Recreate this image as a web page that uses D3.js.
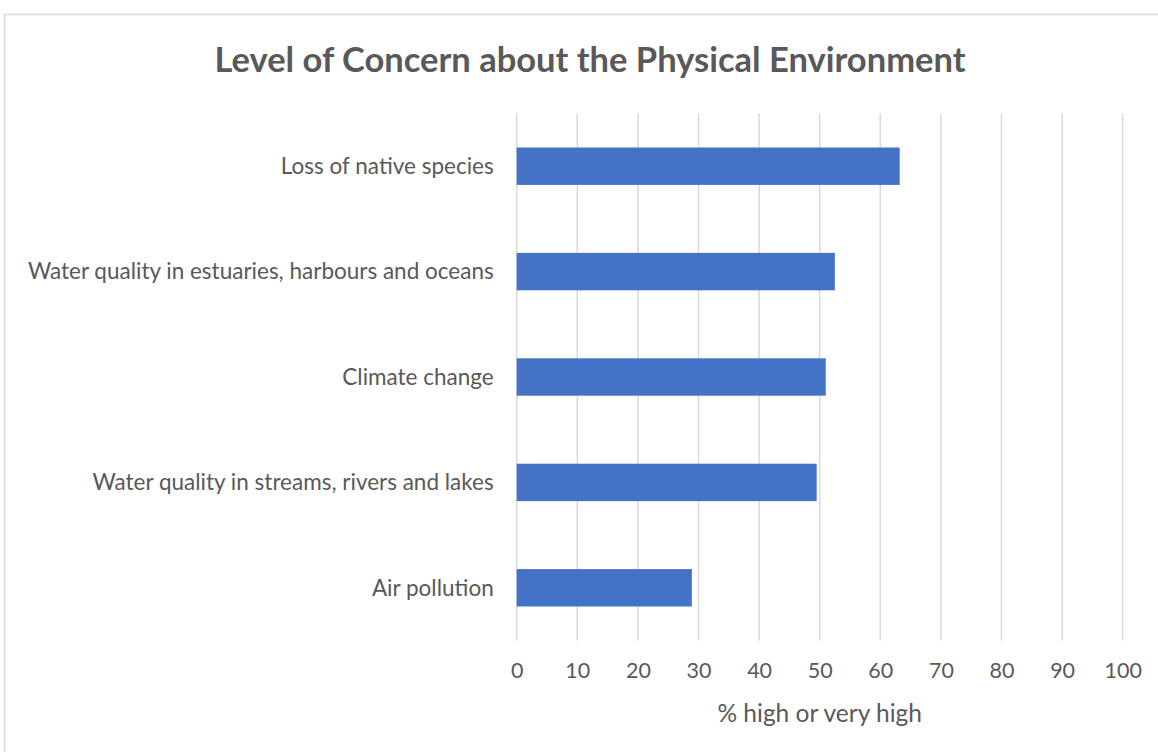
<!DOCTYPE html>
<html>
<head>
<meta charset="utf-8">
<script src="https://cdn.jsdelivr.net/npm/d3@7"></script>
<style>
  html, body { margin: 0; padding: 0; background: #fff; }
  svg { display: block; }
  text { font-family: Lato, "Open Sans", sans-serif; fill: #595959; }
</style>
</head>
<body>
<svg id="chart" width="1158" height="752"></svg>
<script>
// Survey results: share rating each concern high or very high
const categories = [
  "Loss of native species",
  "Water quality in estuaries, harbours and oceans",
  "Climate change",
  "Water quality in streams, rivers and lakes",
  "Air pollution"
];
const values = [63.2, 52.5, 51.0, 49.5, 28.9];
const tickValues = [0, 10, 20, 30, 40, 50, 60, 70, 80, 90, 100];

const title = "Level of Concern about the Physical Environment";
const xAxisTitle = "% high or very high";

const svg = d3.select("#chart");
const W = 1158, H = 752;

// chart frame
svg.append("rect")
  .attr("x", 4.5).attr("y", 14.5)
  .attr("width", W + 10).attr("height", H + 10)
  .attr("fill", "#fff").attr("stroke", "#d9d9d9").attr("stroke-width", 1.5);

const plot = { left: 516.7, right: 1122.7, top: 113.5, bottom: 640.5 };

const x = d3.scaleLinear().domain([0, 100]).range([plot.left, plot.right]);
const y = d3.scaleBand().domain(categories).range([plot.top, plot.bottom])
  .paddingInner(0.645).paddingOuter(0.3225);

// vertical gridlines
svg.append("g")
  .selectAll("line")
  .data(tickValues)
  .join("line")
  .attr("x1", d => x(d)).attr("x2", d => x(d))
  .attr("y1", plot.top).attr("y2", plot.bottom)
  .attr("stroke", "#d9d9d9").attr("stroke-width", 1.5);

// bars
svg.append("g")
  .selectAll("rect")
  .data(categories)
  .join("rect")
  .attr("x", x(0))
  .attr("y", d => y(d))
  .attr("width", (d, i) => x(values[i]) - x(0))
  .attr("height", y.bandwidth())
  .attr("fill", "#4472c4");

// x axis tick labels
const xAxis = d3.axisBottom(x).tickValues(tickValues).tickSize(0).tickPadding(0);
const gx = svg.append("g").attr("transform", `translate(0,${plot.bottom})`).call(xAxis);
gx.select(".domain").remove();
gx.selectAll("text")
  .attr("y", 30).attr("dy", "0.35em")
  .style("font-size", "21.5px").style("font-family", "Lato, sans-serif")
  .attr("fill", "#595959");

// category labels
const yAxis = d3.axisLeft(y).tickSize(0).tickPadding(0);
const gy = svg.append("g").attr("transform", `translate(${plot.left - 23},0)`).call(yAxis);
gy.select(".domain").remove();
gy.selectAll("text")
  .attr("dy", "0.35em")
  .style("font-size", "22.5px").style("font-family", "Lato, sans-serif")
  .attr("fill", "#595959");

// axis title
svg.append("text")
  .attr("x", (plot.left + plot.right) / 2).attr("y", 713)
  .attr("text-anchor", "middle").attr("dy", "0.35em")
  .style("font-size", "24.5px")
  .text(xAxisTitle);

// chart title
svg.append("text")
  .attr("x", 590).attr("y", 60)
  .attr("text-anchor", "middle").attr("dy", "0.35em")
  .style("font-size", "34.5px").style("font-weight", "bold")
  .text(title);
</script>
</body>
</html>
